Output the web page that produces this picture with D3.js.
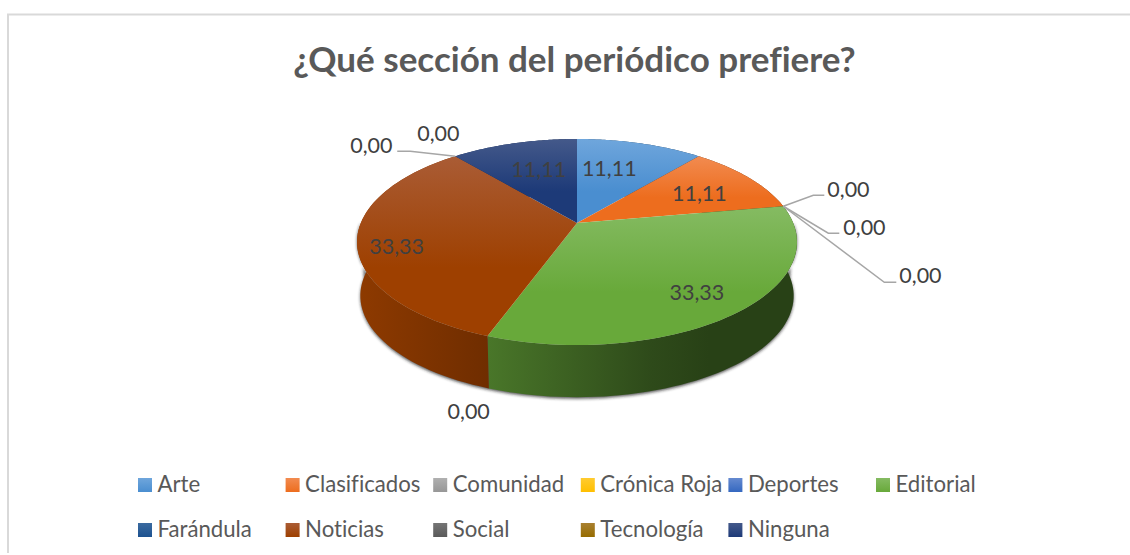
<!DOCTYPE html>
<html>
<head>
<meta charset="utf-8">
<style>html,body{margin:0;padding:0;background:#fff}svg{display:block}text{font-family:Lato,Carlito,sans-serif;font-variant-ligatures:none}</style>
<script src="https://cdnjs.cloudflare.com/ajax/libs/d3/7.8.5/d3.min.js"></script>
</head>
<body>
<svg id="c" width="1130" height="555"></svg>
<script>
const title = "¿Qué sección del periódico prefiere?";
const categories = ["Arte","Clasificados","Comunidad","Crónica Roja","Deportes","Editorial","Farándula","Noticias","Social","Tecnología","Ninguna"];
const values = [11.11,11.11,0,0,0,33.33,0,33.33,0,0,11.11];
const baseColors = ["#4a8ed0","#ed6d1e","#979797","#ffbf00","#3568c0","#68a93a","#1d5290","#9e4000","#5a5a5a","#966c00","#1d3a78"];
const lightColors = ["#6fa6dc","#f28b50","#b0b0b0","#ffcb30","#658ad0","#85bb62","#3a6a9f","#aa5c35","#757575","#a98030","#44598a"];

// label layout: offsets from the slice's anchor on the rim (or fraction of radius for inner labels)
const labelLayout = [
  {r:.52, dx:-3, dy:-10}, {r:.72, dx:-4, dy:4},
  {leader:[[30,-11],[41,-11]], text:[44,-17]},
  {leader:[[45,27],[56,27]], text:[60,21]},
  {leader:[[101,76],[113,76]], text:[116,69]},
  {dx:37, dy:24, r:.55},
  {text:[-40,75]},
  {r:.9, dx:17, dy:7},
  {leader:[[-45,-5],[-58,-5]], text:[-105,-11]},
  {text:[-38,-23]},
  {r:.52, dx:-3, dy:-9}
];

const svg=d3.select("#c");
const defs=svg.append("defs");

// perspective projection of the pie disc
const cx=577, cy=223, a=216.2, b=99.5, k=0.1845, depth=54, shrink=0.985;
const rimRight=cx+220, rimLeft=cx-220;
function topPt(theta,r=1){const u=r*Math.sin(theta),v=r*Math.cos(theta),w=1+k*v;return [cx+a*u/w,cy-b*v/w];}
function bottomPt(theta){const p=topPt(theta);return [cx+(p[0]-cx)*shrink,cy+(p[1]-cy)*shrink+depth];}

const arcs=d3.pie().sort(null).value(d=>d)(values);
arcs.forEach((d,i)=>{d.i=i;});
const line=d3.line();
const samples=(s,e)=>d3.range(0,61).map(j=>s+(e-s)*j/60);

// frame: only the top and left borders show
svg.append("path").attr("d","M1130,14.5H8V553").attr("fill","none").attr("stroke","#d9d9d9").attr("stroke-width",2);

// gradients
categories.forEach((c,i)=>{
  const g=defs.append("linearGradient").attr("id","face"+i).attr("x1",0).attr("y1",0).attr("x2",0).attr("y2",1);
  g.append("stop").attr("offset",0).attr("stop-color",lightColors[i]);
  g.append("stop").attr("offset",.62).attr("stop-color",baseColors[i]);
  g.append("stop").attr("offset",1).attr("stop-color",baseColors[i]);
  const wx=[[0,.3],[.3,1],[.67,2.3],[.8,2.7],[1,2.7]];
  const wg=defs.append("linearGradient").attr("id","wall"+i).attr("gradientUnits","userSpaceOnUse").attr("x1",rimLeft).attr("x2",rimRight).attr("y1",0).attr("y2",0);
  wx.forEach(([o,dk])=>wg.append("stop").attr("offset",o).attr("stop-color",d3.color(baseColors[i]).darker(dk).formatHex()));
});
const blur=defs.append("filter").attr("id","sh").attr("x","-10%").attr("y","-10%").attr("width","120%").attr("height","120%");
blur.append("feGaussianBlur").attr("stdDeviation",1.6);

// drop shadow under the wall
const full=samples(Math.PI*0.5,Math.PI*1.5);
const shadowPts=full.map(t=>{const p=bottomPt(t);return [p[0],p[1]+1.5];}).concat(samples(Math.PI*1.5,Math.PI*0.5).map(t=>topPt(t)));
svg.append("path").attr("d",line(shadowPts)+"Z").attr("fill","#222").attr("fill-opacity",.75).attr("filter","url(#sh)");

// walls
svg.append("g").selectAll("path").data(arcs.filter(d=>d.value>0)).join("path")
  .attr("d",d=>{const t=samples(d.startAngle,d.endAngle);return line(t.map(x=>topPt(x)).concat(t.slice().reverse().map(bottomPt)))+"Z";})
  .attr("fill",d=>`url(#wall${d.i})`);

// top faces
svg.append("g").selectAll("path").data(arcs.filter(d=>d.value>0)).join("path")
  .attr("d",d=>line([[cx,cy]].concat(samples(d.startAngle,d.endAngle).map(x=>topPt(x))))+"Z")
  .attr("fill",d=>`url(#face${d.i})`);

// leaders and data labels
const labels=svg.append("g");
arcs.forEach((d,i)=>{
  const L=labelLayout[i];
  const p=topPt(d.startAngle);
  const txt=d3.format(".2f")(d.value).replace(".",",");
  if(L.leader){
    labels.append("path").attr("d",line([p].concat(L.leader.map(o=>[p[0]+o[0],p[1]+o[1]]))))
      .attr("fill","none").attr("stroke","#a6a6a6").attr("stroke-width",1.5);
  }
  let x,y,anchor="start";
  if(L.text){x=p[0]+L.text[0];y=p[1]+L.text[1];}
  else{const c=topPt((d.startAngle+d.endAngle)/2,L.r);x=c[0]+(L.dx||0);y=c[1]+(L.dy||0);anchor="middle";}
  labels.append("text").attr("x",x).attr("y",y).attr("dy","0.35em").attr("text-anchor",anchor)
    .attr("font-size",21.5).attr("fill","#404040").text(txt);
});

// title
svg.append("text").attr("x",574.5).attr("y",71.5).attr("text-anchor","middle").attr("font-size",35).attr("font-weight",700).attr("fill","#595959").text(title);

// legend
const colX=d3.scalePoint().domain(d3.range(6)).range([138,876]);
const rowY=d3.scalePoint().domain([0,1]).range([478,523]);
const leg=svg.append("g").selectAll("g").data(categories).join("g")
  .attr("transform",(d,i)=>`translate(${colX(i%6)},${rowY(Math.floor(i/6))})`);
const swatchG=defs.selectAll("linearGradient.sw").data(categories).join("linearGradient").attr("class","sw")
  .attr("id",(d,i)=>"sw"+i).attr("x1",0).attr("y1",0).attr("x2",0).attr("y2",1);
swatchG.append("stop").attr("offset",0).attr("stop-color",(d,i)=>lightColors[i]);
swatchG.append("stop").attr("offset",1).attr("stop-color",(d,i)=>baseColors[i]);
leg.append("rect").attr("width",14).attr("height",14).attr("fill",(d,i)=>`url(#sw${i})`);
leg.append("text").attr("x",19.5).attr("y",6).attr("dy","0.35em").attr("font-size",22.2).attr("fill","#595959").text(d=>d);
</script>
</body>
</html>
